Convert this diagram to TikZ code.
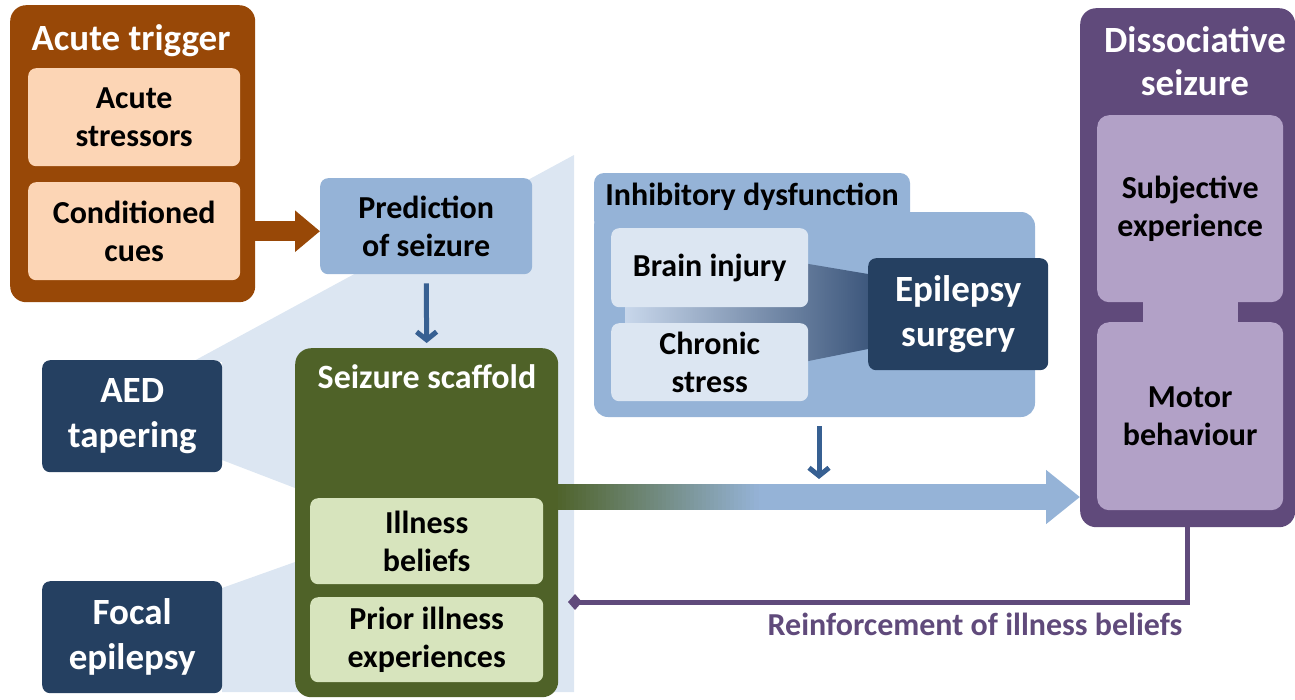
\documentclass[tikz,border=0pt]{standalone}
\usepackage{fontspec}
\setmainfont{Carlito}
\usetikzlibrary{arrows.meta,shapes.geometric}
\definecolor{brownC}{RGB}{152,72,7}
\definecolor{peachC}{RGB}{252,213,181}
\definecolor{lightblueC}{RGB}{149,179,215}
\definecolor{paleblueC}{RGB}{220,230,242}
\definecolor{oliveC}{RGB}{79,98,40}
\definecolor{palegreenC}{RGB}{215,228,189}
\definecolor{navyC}{RGB}{37,64,97}
\definecolor{purpleC}{RGB}{96,74,123}
\definecolor{lilacC}{RGB}{178,161,199}
\definecolor{arrowC}{RGB}{55,96,146}
\definecolor{trapC}{RGB}{62,88,125}
\definecolor{trapL}{RGB}{200,215,235}
\definecolor{arrowGreen}{RGB}{80,100,45}
\tikzset{
  box/.style={rounded corners=8pt, inner sep=0pt, align=center, anchor=north west, text=black,
    font=\bfseries\fontsize{32}{38}\selectfont},
  navybox/.style={box, fill=navyC, text=white, font=\bfseries\fontsize{37}{45}\selectfont},
  outerbox/.style={rounded corners=16pt, inner sep=0pt, anchor=north west},
  titletext/.style={inner sep=0pt, align=center, text=white, font=\bfseries\fontsize{37}{43}\selectfont},
  thinarrow/.style={draw=arrowC, line width=5pt, -{Straight Barb[length=8pt,width=20pt]}},
}
\begin{document}
\begin{tikzpicture}[x=1pt,y=-1pt]
\useasboundingbox (0,0) rectangle (1295,699);
% light background wedge
\fill[paleblueC] (574,155) -- (192,362) -- (222,362) -- (222,460) -- (295,488) -- (295,562) -- (222,588) -- (222,692) -- (574,692) -- cycle;

% Acute trigger
\node[outerbox, fill=brownC, minimum width=245pt, minimum height=297pt] (trig) at (10,5) {};
\node[titletext] (trigT) at (131,41) {Acute trigger};
\node[box, fill=peachC, minimum width=212pt, minimum height=98pt] (acs) at (28,68) {Acute\\stressors};
\node[box, fill=peachC, minimum width=212pt, minimum height=98pt] (cond) at (28,182) {Conditioned\\cues};

% Prediction
\node[box, fill=lightblueC, minimum width=212pt, minimum height=96pt] (pred) at (320,178) {Prediction\\of seizure};

% Seizure scaffold
\node[outerbox, fill=oliveC, minimum width=263pt, minimum height=349pt] (scaf) at (295,348) {};
\node[titletext, font=\bfseries\fontsize{34}{40}\selectfont] (scafT) at (427,377) {Seizure scaffold};
\node[box, fill=palegreenC, minimum width=233pt, minimum height=86pt] (ill) at (310,498) {Illness\\beliefs};
\node[box, fill=palegreenC, minimum width=233pt, minimum height=85pt] (prior) at (310,597) {Prior illness\\experiences};

% AED / Focal
\node[navybox, minimum width=180pt, minimum height=112pt] (aed) at (42,360) {AED\\tapering};
\node[navybox, minimum width=180pt, minimum height=112pt] (focal) at (42,581) {Focal\\epilepsy};

% Inhibitory dysfunction group
\fill[lightblueC, rounded corners=10pt] (594,173) rectangle (910,230);
\fill[lightblueC, rounded corners=14pt] (594,212) rectangle (1035,417);
\coordinate (inhibB) at (819,417);
\node[inner sep=0pt, text=black, font=\bfseries\fontsize{32}{38}\selectfont] (inhibT) at (752,197) {Inhibitory dysfunction};
\shade[left color=trapL, right color=trapC] (625,233) -- (868,274) -- (868,349) -- (625,398) -- cycle;
\node[box, fill=paleblueC, minimum width=197pt, minimum height=79pt] (brain) at (611,228) {Brain injury};
\node[box, fill=paleblueC, minimum width=197pt, minimum height=78pt] (chron) at (611,323) {Chronic\\stress};
\node[navybox, minimum width=180pt, minimum height=112pt] (surg) at (868,258) {Epilepsy\\surgery};

% Dissociative seizure
\node[outerbox, fill=purpleC, minimum width=215pt, minimum height=519pt] (diss) at (1080,8) {};
\node[titletext, font=\bfseries\fontsize{37}{43}\selectfont] (dissT) at (1195,61) {Dissociative\\seizure};
\node[fill=lilacC, minimum width=95pt, minimum height=26pt, inner sep=0pt] (bridge) at (1190.5,312) {};
\node[box, rounded corners=12pt, fill=lilacC, minimum width=186pt, minimum height=187pt] (subj) at (1097,115) {Subjective\\experience};
\node[box, rounded corners=12pt, fill=lilacC, minimum width=186pt, minimum height=188pt] (motor) at (1097,322) {Motor\\behaviour};

% connectors
\draw[draw=brownC, line width=20pt, -{Triangle[length=25pt,width=40pt]}] (trig.east |- cond.east) -- (pred.west |- cond.east);
\draw[thinarrow, shorten <=9pt, shorten >=5pt] (pred.south) -- (scaf.north);
\coordinate (arrowY) at (0,497);
\coordinate (bigTop) at (819,484);
\draw[draw=lightblueC, line width=26pt, -{Triangle[length=34pt,width=52pt]}] (scaf.east |- arrowY) -- (diss.west |- arrowY);
\foreach \i in {0,...,49}{
  \pgfmathsetmacro{\p}{100-2*\i}
  \fill[arrowGreen!\p!lightblueC] (558+4*\i,484) rectangle (562.6+4*\i,510);
}
\draw[thinarrow, shorten <=9pt, shorten >=5pt] (inhibB) -- (bigTop);
\coordinate (reinfEnd) at (568,602);
\draw[draw=purpleC, line width=5pt, -{Diamond[length=14pt,width=16pt]}] (diss.south) |- (reinfEnd);
\node[inner sep=0pt, text=purpleC, font=\bfseries\fontsize{32}{38}\selectfont] (reinfL) at (975,624) {Reinforcement of illness beliefs};
\end{tikzpicture}
\end{document}
